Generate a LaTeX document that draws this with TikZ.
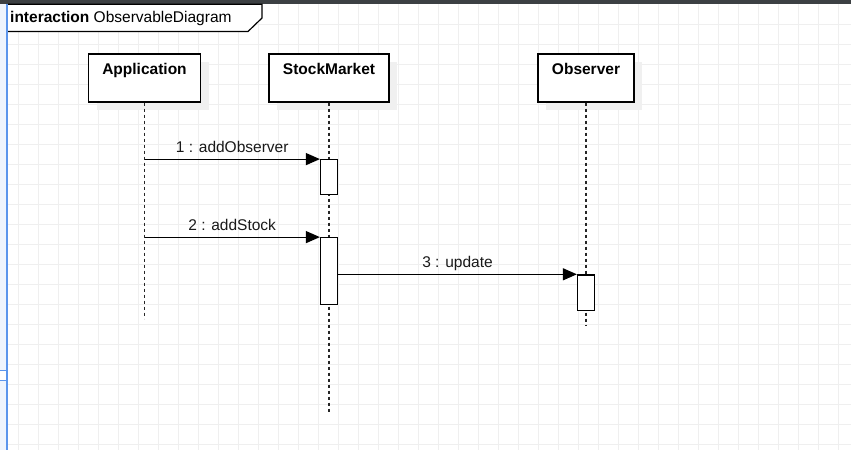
\documentclass[tikz,border=0pt]{standalone}
\usepackage{fontspec}
\setmainfont{Liberation Sans}
\usepackage{xcolor}
\usetikzlibrary{arrows.meta,positioning}
\definecolor{gridgray}{HTML}{EFEFEF}
\definecolor{topbar}{HTML}{3C4043}
\definecolor{panelblue}{HTML}{EEF4FD}
\definecolor{edgeblue}{HTML}{5B95EC}
\definecolor{shadowgray}{HTML}{F0F0F0}

\begin{document}
\begin{tikzpicture}[x=1pt,y=-1pt,
		every node/.style={font=\fontsize{15.5}{18}\selectfont},
		head/.style={draw,line width=1.2pt,fill=white,minimum height=48pt,inner sep=0pt},
		headtext/.style={font=\fontsize{15.5}{18}\selectfont\bfseries,anchor=base,inner sep=0pt},
		lifeline/.style={line width=1.2pt,color=black!85,dash pattern=on 3pt off 3pt},
		actbar/.style={draw,line width=1.2pt,fill=white,minimum width=17pt,inner sep=0pt,anchor=north},
		msg/.style={line width=1.2pt,-{Triangle[length=14pt,width=12pt]}},
		msglabel/.style={midway,anchor=base,yshift=7pt,inner sep=0pt,color=black!90}]
		\useasboundingbox (0,0) rectangle (851,450);
		\fill[white] (0,0) rectangle (851,450);
		% canvas grid
		\foreach \gx in {18,38,...,838}
			\draw[gridgray,line width=0.8pt] (\gx,4) -- (\gx,450);
		\foreach \gy in {24,44,...,444}
			\draw[gridgray,line width=0.8pt] (8,\gy) -- (851,\gy);
		\fill[topbar] (0,0) rectangle (851,4.3);
		\fill[panelblue] (0,4.3) rectangle (7,450);
		\draw[edgeblue,line width=0.8pt,fill=white] (-1,370) rectangle (6.5,380);
		\draw[edgeblue,line width=1.4pt] (7,4.3) -- (7,450);
		% frame label
		\draw[line width=1.2pt,fill=white] (8,4.3) -- (262,4.3) -- (262,18) -- (248,31.5) -- (8,31.5);
		\node[anchor=base west,inner sep=0pt] (frame) at (10,22.5) {\textbf{interaction} ObservableDiagram};
		% lifeline heads
		\fill[shadowgray] (96.5,62) rectangle (208.5,110);
		\fill[shadowgray] (277,62) rectangle (397,110);
		\fill[shadowgray] (546,62) rectangle (642,110);
		\node[head,minimum width=112pt] (app) at (144.5,78) {};
		\node[head,minimum width=120pt] (sm) at (329,78) {};
		\node[head,minimum width=96pt] (obs) at (586,78) {};
		\node[headtext] (apptext) at (144.5,74.3) {Application};
		\node[headtext] (smtext) at (329,74.3) {StockMarket};
		\node[headtext] (obstext) at (586,74.3) {Observer};
		% lifelines
		\path (app.south) ++(0,216) coordinate (append);
		\path (sm.south) ++(0,311) coordinate (smend);
		\path (obs.south) ++(0,223) coordinate (obsend);
		\draw[lifeline] (app.south) -- (append);
		\draw[lifeline] (sm.south) -- (smend);
		\draw[lifeline] (obs.south) -- (obsend);
		% activations
		\node[actbar,minimum height=35pt,below=56.5pt of sm.south] (act1) {};
		\node[actbar,minimum height=67pt,below=134.5pt of sm.south] (act2) {};
		\node[actbar,minimum height=35.5pt,below=171.7pt of obs.south] (act3) {};
		% messages
		\draw[msg] (app.south |- act1.north west) -- (act1.north west) node[msglabel] {1 : addObserver};
		\draw[msg] (app.south |- act2.north west) -- (act2.north west) node[msglabel] {2 : addStock};
		\draw[msg] (act2.east |- act3.north west) -- (act3.north west) node[msglabel] {3 : update};
	\end{tikzpicture}
\end{document}
